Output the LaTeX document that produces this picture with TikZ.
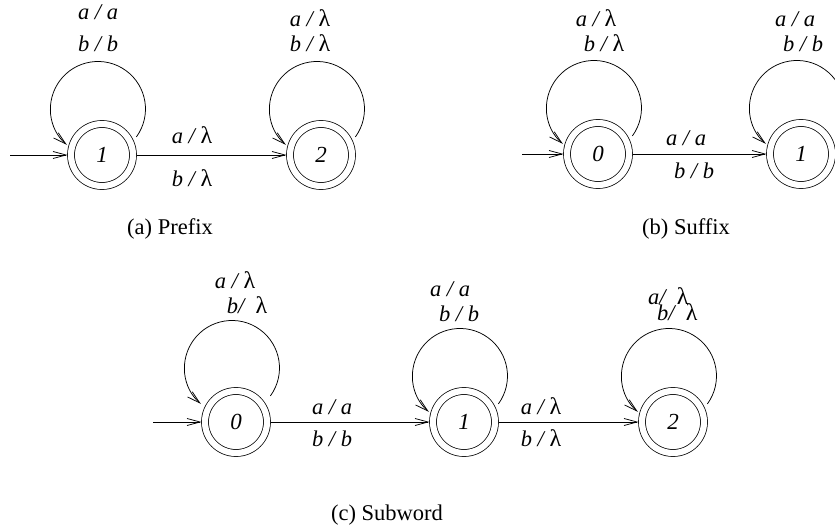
\documentclass[tikz,border=0pt]{standalone}
\usepackage{fontspec}
\setmainfont{Liberation Serif}
\usetikzlibrary{arrows.meta}
\newcommand\lam{{\upshape\fontsize{24}{26}\selectfont λ}}
\newcommand\selfloop[2]{\draw[arr] (#1) ++(34.4,18.1+#2) arc[start angle=-36,end angle=229,radius=47.5];}
\begin{document}
\begin{tikzpicture}[x=1pt,y=1pt,
  arr/.style={-{Straight Barb[length=13pt,width=7pt]},line width=0.75pt},
  st/.style={circle,draw,line width=0.75pt,double,double distance=6.2pt,minimum size=62pt,inner sep=0pt,outer sep=3.5pt,font=\fontsize{23}{26}\selectfont\itshape},
  lab/.style={anchor=base,inner sep=0pt,font=\fontsize{22.5}{26}\selectfont\itshape},
  captext/.style={anchor=base,inner sep=0pt,font=\fontsize{22.5}{26}\selectfont}]
\useasboundingbox (0,0) rectangle (835,531);
% (a) Prefix
\node[st] (P1) at (102,376) {1};
\node[st] (P2) at (321,376) {2};
\coordinate (Pi) at (10,376);
\draw[arr] (Pi) -- (P1);
\draw[arr] (P1) -- (P2);
\selfloop{P1}{0}
\selfloop{P2}{0}
\node[lab] (pl1a) at (98,511) {a / a};
\node[lab] (pl1b) at (98,479) {b / b};
\node[lab] (pl2a) at (310,504) {a / \lam};
\node[lab] (pl2b) at (310,479) {b / \lam};
\node[lab] (pta) at (192,387) {a / \lam};
\node[lab] (ptb) at (192,344) {b / \lam};
\node[captext] (capa) at (170,297) {(a) Prefix};
% (b) Suffix
\node[st] (S0) at (598,377) {0};
\node[st] (S1) at (801,377) {1};
\coordinate (Si) at (522,377);
\draw[arr] (Si) -- (S0);
\draw[arr] (S0) -- (S1);
\selfloop{S0}{0}
\selfloop{S1}{0}
\node[lab] (sl0a) at (596,504) {a / \lam};
\node[lab] (sl0b) at (604,479) {b / \lam};
\node[lab] (sl1a) at (795,504) {a / a};
\node[lab] (sl1b) at (803,479) {b / b};
\node[lab] (sta) at (686,385) {a / a};
\node[lab] (stb) at (694,352) {b / b};
\node[captext] (capb) at (686,297) {(b) Suffix};
% (c) Subword
\node[st] (W0) at (236,109) {0};
\node[st] (W1) at (464,109) {1};
\node[st] (W2) at (673,109) {2};
\coordinate (Wi) at (153,109);
\draw[arr] (Wi) -- (W0);
\draw[arr] (W0) -- (W1);
\draw[arr] (W1) -- (W2);
\selfloop{W0}{8}
\selfloop{W1}{0}
\selfloop{W2}{0}
\node[lab] (wl0a) at (235,243) {a / \lam};
\node[lab] (wl0b) at (247,218) {b/\ \ \lam};
\node[lab] (wl1a) at (450,235) {a / a};
\node[lab] (wl1b) at (459,210) {b / b};
\node[lab] (wt1a) at (332,117) {a / a};
\node[lab] (wt1b) at (332,85) {b / b};
\node[lab] (wt2a) at (541,117) {a / \lam};
\node[lab] (wt2b) at (541,85) {b / \lam};
\node[lab,anchor=base west] (wl2a) at (648,227) {a/ \ \lam};
\node[lab,anchor=base west] (wl2b) at (657,211) {b/ \ \lam};
\node[captext] (capc) at (387,11) {(c) Subword};
\end{tikzpicture}
\end{document}
